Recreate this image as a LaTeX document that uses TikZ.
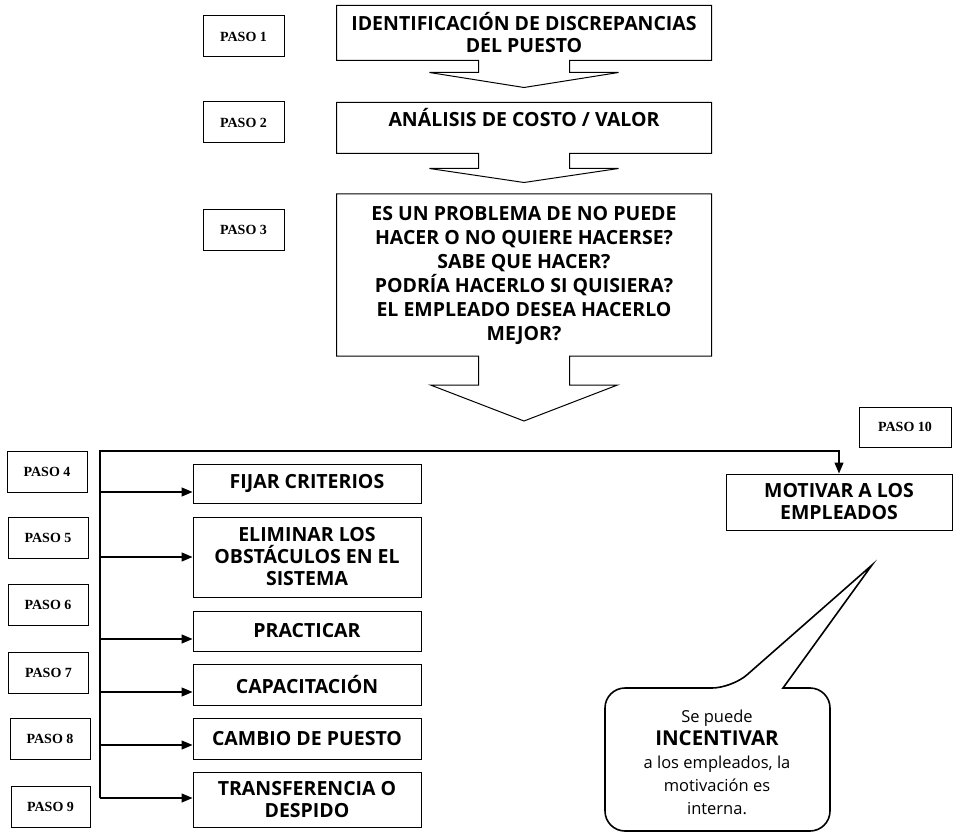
\documentclass[tikz,border=0pt]{standalone}
\usepackage{fontspec}
\setmainfont{Liberation Serif}
\newfontfamily\cajafont{Open Sans}
\usetikzlibrary{calc,arrows.meta}

\tikzset{
  paso/.style={draw, line width=1pt, minimum width=81pt, minimum height=41pt, inner sep=0pt,
    font=\bfseries\fontsize{14}{16}\selectfont},
  caja/.style={draw, line width=1pt, minimum width=228pt, inner sep=2pt, align=center,
    font=\cajafont\bfseries\fontsize{19.5}{22}\selectfont},
  grande/.style={caja, draw=none, minimum width=374pt},
  borde/.style={line width=1pt},
  conector/.style={line width=1.3pt, -{Triangle[length=11pt,width=9pt]}},
}

\begin{document}
\begin{tikzpicture}[x=1pt,y=-1pt]

    \useasboundingbox (0,0) rectangle (953,834);

    % pasos 1 a 3
    \node[paso] (p1) at (243.5,36.5) {PASO 1};
    \node[paso] (p2) at (243.5,122.5) {PASO 2};
    \node[paso] (p3) at (243.5,230) {PASO 3};

    % cajas con flecha hacia abajo
    \node[grande, minimum height=54pt] (b1) at (524,33) {IDENTIFICACIÓN DE DISCREPANCIAS\\DEL PUESTO};
    \node[grande, minimum height=50pt] (b2) at (524,128) {ANÁLISIS DE COSTO / VALOR\\\mbox{}};
    \node[grande, minimum height=161pt, font=\cajafont\bfseries\fontsize{19.5}{24}\selectfont] (b3) at (524,275)
        {ES UN PROBLEMA DE NO PUEDE\\HACER O NO QUIERE HACERSE?\\SABE QUE HACER?\\PODRÍA HACERLO SI QUISIERA?\\EL EMPLEADO DESEA HACERLO\\MEJOR?};

    % contorno caja 1
    \draw[borde] (b1.south west) |- (b1.north east) |- ($(b1.south)+(45.5,0)$) -- ++(0,12) -- ++(49,0)
        -- ($(b1.south)+(0,27)$) -- ($(b1.south)+(-94.5,12)$) -- ++(49,0) -- ++(0,-12) -- cycle;

    % contorno caja 2
    \draw[borde] (b2.south west) |- (b2.north east) |- ($(b2.south)+(45.5,0)$) -- ++(0,15) -- ++(49,0)
        -- ($(b2.south)+(0,29)$) -- ($(b2.south)+(-94.5,15)$) -- ++(49,0) -- ++(0,-15) -- cycle;

    % contorno caja 3
    \draw[borde] (b3.south west) |- (b3.north east) |- ($(b3.south)+(45.5,0)$) -- ++(0,29) -- ++(48,0)
        -- ($(b3.south)+(0,65)$) -- ($(b3.south)+(-93.5,29)$) -- ++(48,0) -- ++(0,-29) -- cycle;

    % pasos 4 a 10
    \node[paso, minimum width=80pt] (p4) at (47,472) {PASO 4};
    \node[paso, minimum width=80pt] (p5) at (48,537.5) {PASO 5};
    \node[paso, minimum width=80pt] (p6) at (48,605) {PASO 6};
    \node[paso, minimum width=80pt] (p7) at (48.5,672.5) {PASO 7};
    \node[paso, minimum width=80pt] (p8) at (50,739) {PASO 8};
    \node[paso, minimum width=79pt] (p9) at (50.5,806.5) {PASO 9};
    \node[paso, minimum width=92pt, minimum height=40pt] (p10) at (905,427) {PASO 10};

    % acciones
    \node[caja, minimum height=39pt] (c1) at (307,483.5) {FIJAR CRITERIOS};
    \node[caja, minimum height=80pt] (c2) at (307,557) {ELIMINAR LOS\\OBSTÁCULOS EN EL\\SISTEMA};
    \node[caja, minimum height=40pt] (c3) at (307,631) {PRACTICAR};
    \node[caja, minimum height=41pt] (c4) at (307,684.5) {CAPACITACIÓN};
    \node[caja, minimum height=41pt] (c5) at (307,738.5) {CAMBIO DE PUESTO};
    \node[caja, minimum height=55pt] (c6) at (307,799.5) {TRANSFERENCIA O\\DESPIDO};
    \node[caja, minimum width=226pt, minimum height=56pt] (m) at (839,502) {MOTIVAR A LOS\\EMPLEADOS};

    % ramas
    \coordinate (esq) at (100,451);
    \coordinate (t1) at (100,492);
    \coordinate (t2) at (100,557);
    \coordinate (t3) at (100,639);
    \coordinate (t4) at (100,692);
    \coordinate (t5) at (100,745);
    \coordinate (t6) at (100,798);
    \draw[conector] (t6) -- (esq) -| (m.north);
    \draw[conector] (t1) -- (t1 -| c1.west);
    \draw[conector] (t2) -- (t2 -| c2.west);
    \draw[conector] (t3) -- (t3 -| c3.west);
    \draw[conector] (t4) -- (t4 -| c4.west);
    \draw[conector] (t5) -- (t5 -| c5.west);
    \draw[conector] (t6) -- (t6 -| c6.west);

    % globo
    \node[align=center, font=\cajafont\fontsize{16.5}{23}\selectfont] (globo) at (717,762)
        {Se puede\\{\bfseries\fontsize{20.5}{23}\selectfont INCENTIVAR}\\a los empleados, la\\motivación es\\interna.};
    \draw[line width=1.6pt, rounded corners=20pt] (783,688) -- (830,688) -- (830,831) -- (605,831)
        -- (605,688) -- (732,688) [sharp corners] -- (872,565) -- cycle;
\end{tikzpicture}
\end{document}
